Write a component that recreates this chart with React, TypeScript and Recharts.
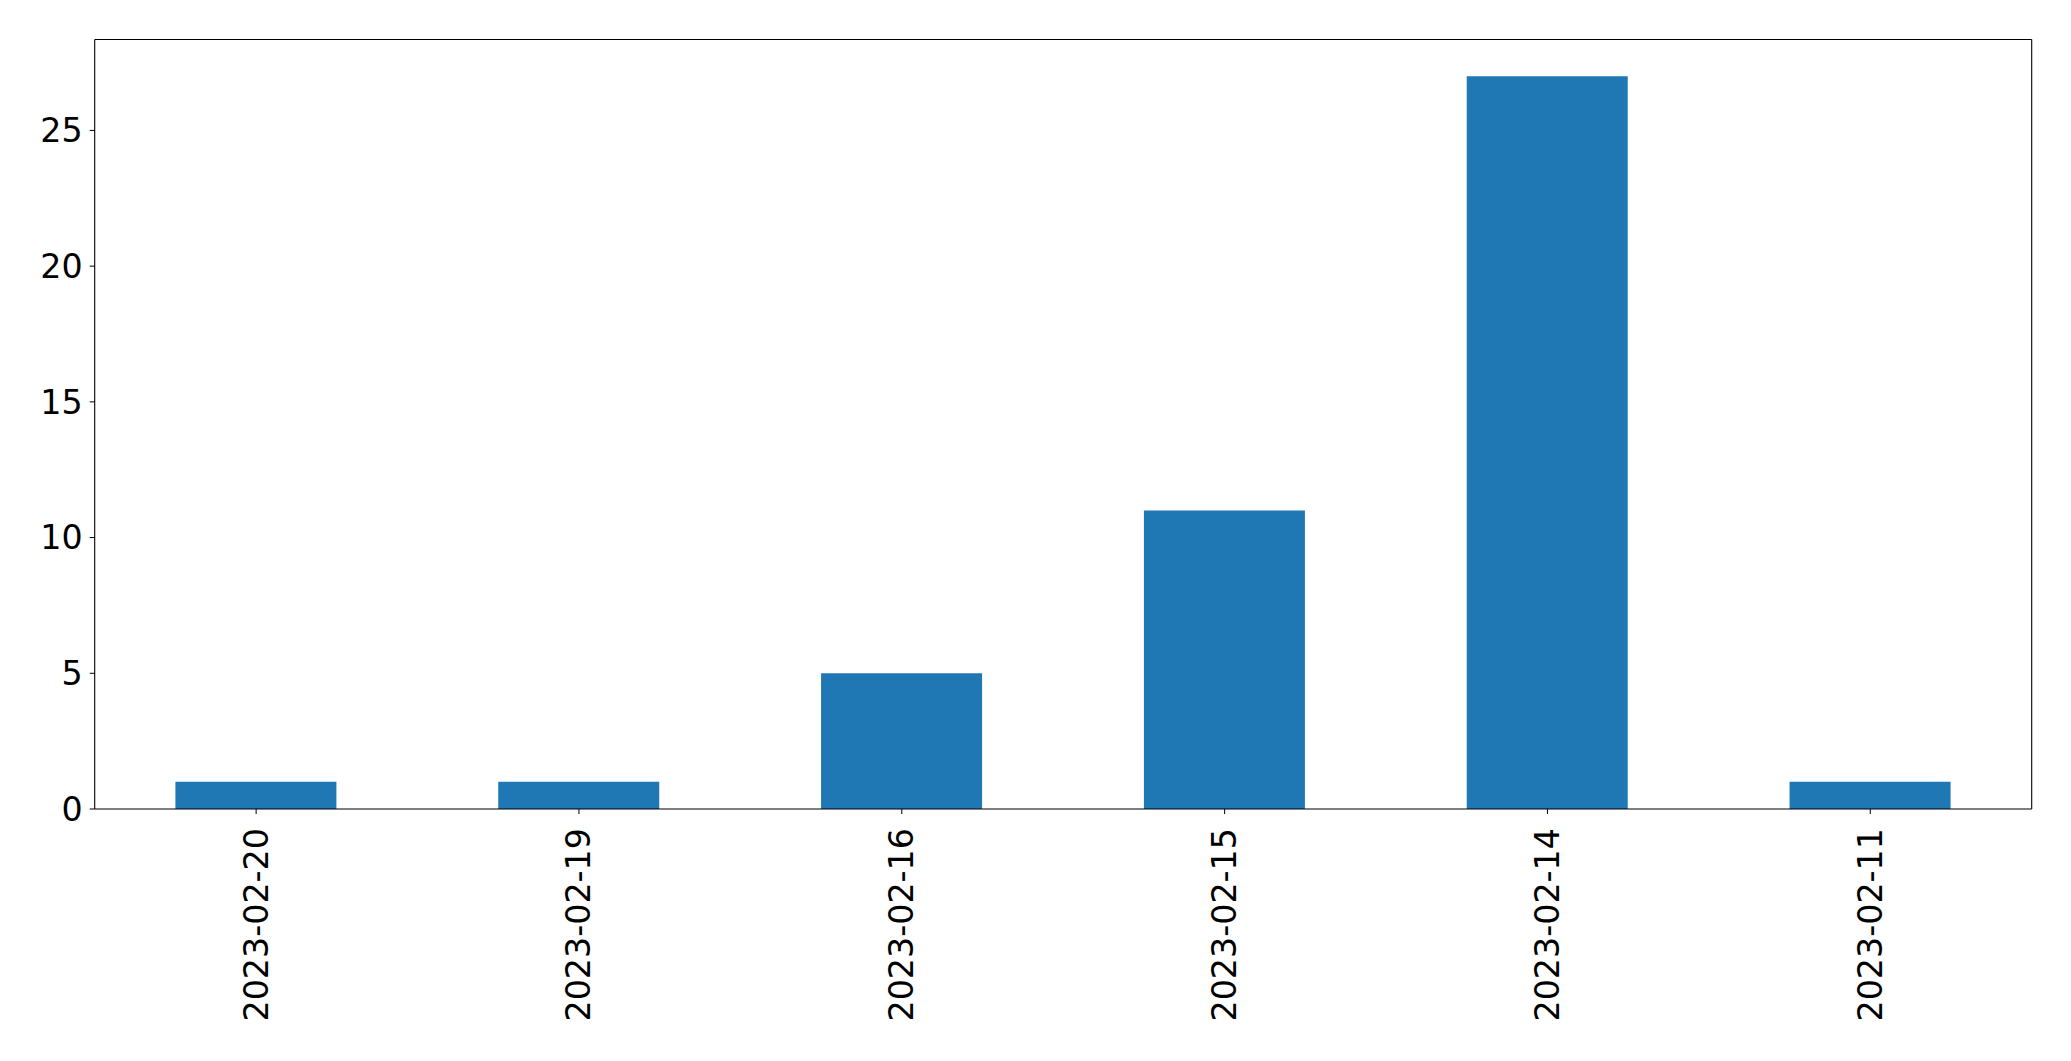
import { BarChart, Bar, XAxis, YAxis, CartesianGrid } from "recharts";

const dates = ["2023-02-20", "2023-02-19", "2023-02-16", "2023-02-15", "2023-02-14", "2023-02-11"];
const counts = [1, 1, 5, 11, 27, 1];
const yTicks = [0, 5, 10, 15, 20, 25];

const data = dates.map((date, i) => ({ date, count: counts[i] }));

const font = { fontFamily: "'DejaVu Sans', sans-serif", fontSize: 33.3, fill: "#000" };

function DateTick(props: any) {
  const { x, y, payload } = props;
  return (
    <text
      transform={`translate(${x},${y + 12}) rotate(-90)`}
      textAnchor="end"
      dominantBaseline="central"
      {...font}
    >
      {payload.value}
    </text>
  );
}

export default function App() {
  return (
    <div style={{ position: "absolute", left: 0, top: 0, background: "#fff" }}>
      <BarChart
        width={2071}
        height={1061}
        data={data}
        margin={{ top: 39.5, right: 39.3, left: 0, bottom: 0 }}
        barCategoryGap="25%"
      >
        {/* top and right spines of the matplotlib box */}
        <CartesianGrid
          stroke="#000"
          strokeWidth={1.1}
          horizontalCoordinatesGenerator={({ offset }: any) => [offset.top]}
          verticalCoordinatesGenerator={({ offset }: any) => [offset.left + offset.width]}
        />
        <XAxis
          dataKey="date"
          height={252}
          interval={0}
          tick={<DateTick />}
          tickSize={5}
          axisLine={{ stroke: "#000", strokeWidth: 1.1 }}
          tickLine={{ stroke: "#000" }}
        />
        <YAxis
          width={94.7}
          domain={[0, 28.35]}
          ticks={yTicks}
          tickSize={5}
          tickMargin={7}
          tick={font}
          axisLine={{ stroke: "#000", strokeWidth: 1.1 }}
          tickLine={{ stroke: "#000" }}
        />
        <Bar dataKey="count" fill="#1f77b4" isAnimationActive={false} />
      </BarChart>
    </div>
  );
}
